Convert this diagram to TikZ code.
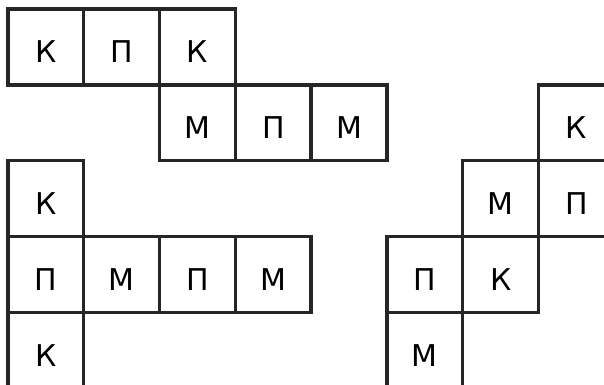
\documentclass[tikz,border=0pt]{standalone}
\usepackage{fontspec}
\setmainfont{DejaVu Sans}
\usepackage{tikz}
\usetikzlibrary{positioning}

\begin{document}
\begin{tikzpicture}[
  x=37.9pt, y=37.9pt,
  cell/.style={rectangle, draw=black!85, line width=1.7pt, fill=white,
               minimum size=37.9pt, inner sep=0pt, outer sep=0pt,
               text height=16pt, text depth=0pt,
               font=\fontsize{15}{18}\selectfont},
  node distance=0pt,
]
\useasboundingbox (-0.1055,0.119) rectangle (7.863,-4.96);
\clip (-0.1055,0.119) rectangle (7.863,-4.96);

% upper piece
\node[cell] at (0.5,-0.5) (a1) {К};
\node[cell, right=of a1] (a2) {П};
\node[cell, right=of a2] (a3) {К};
\node[cell, below=of a3] (a4) {М};
\node[cell, right=of a4] (a5) {П};
\node[cell, right=of a5] (a6) {М};

% left piece
\node[cell] at (0.5,-2.5) (b1) {К};
\node[cell, below=of b1] (b2) {П};
\node[cell, right=of b2] (b3) {М};
\node[cell, right=of b3] (b4) {П};
\node[cell, right=of b4] (b5) {М};
\node[cell, below=of b2] (b6) {К};

% right piece
\node[cell] at (7.5,-1.5) (c1) {К};
\node[cell, below=of c1] (c2) {П};
\node[cell, left=of c2] (c3) {М};
\node[cell, below=of c3] (c4) {К};
\node[cell, left=of c4] (c5) {П};
\node[cell, below=of c5] (c6) {М};
\end{tikzpicture}
\end{document}
